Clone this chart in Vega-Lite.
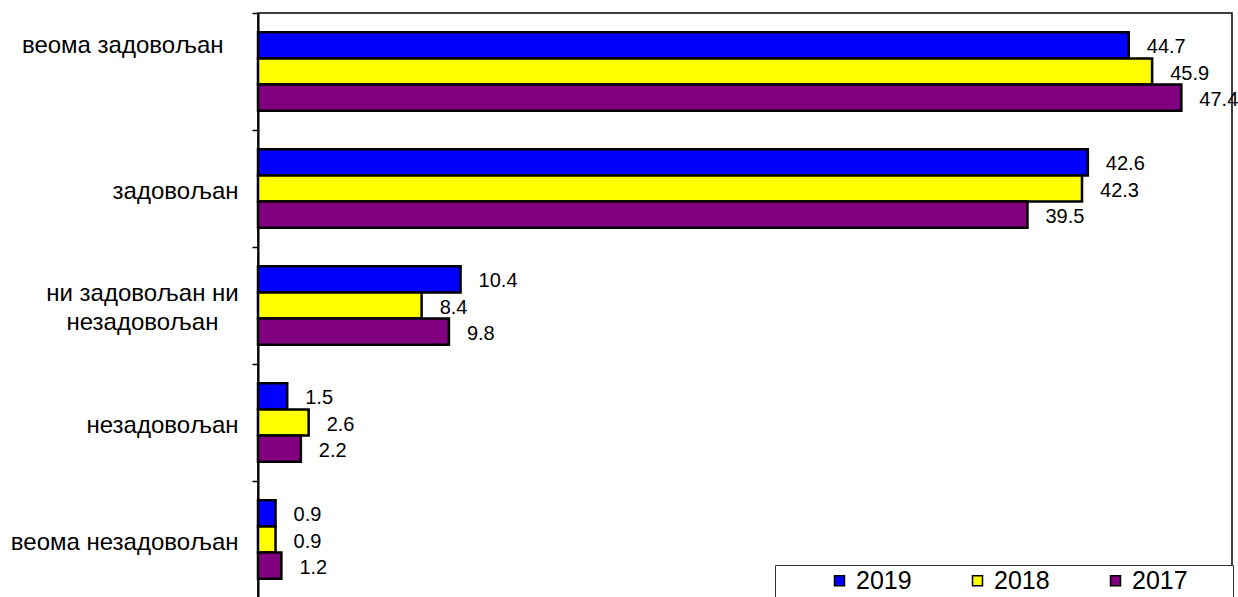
{
  "$schema": "https://vega.github.io/schema/vega-lite/v6.json",
  "width": 974,
  "height": 585,
  "autosize": {"type": "none"},
  "padding": {"left": 258, "top": 13, "right": 6, "bottom": 0},
  "background": "white",
  "config": {
    "font": "Liberation Sans",
    "view": {"stroke": "black", "strokeWidth": 1.5}
  },
  "data": {
    "values": [
      {"cat": "веома задовољан", "year": "2019", "value": 44.7},
      {"cat": "веома задовољан", "year": "2018", "value": 45.9},
      {"cat": "веома задовољан", "year": "2017", "value": 47.4},
      {"cat": "задовољан", "year": "2019", "value": 42.6},
      {"cat": "задовољан", "year": "2018", "value": 42.3},
      {"cat": "задовољан", "year": "2017", "value": 39.5},
      {"cat": "ни задовољан ни незадовољан", "year": "2019", "value": 10.4},
      {"cat": "ни задовољан ни незадовољан", "year": "2018", "value": 8.4},
      {"cat": "ни задовољан ни незадовољан", "year": "2017", "value": 9.8},
      {"cat": "незадовољан", "year": "2019", "value": 1.5},
      {"cat": "незадовољан", "year": "2018", "value": 2.6},
      {"cat": "незадовољан", "year": "2017", "value": 2.2},
      {"cat": "веома незадовољан", "year": "2019", "value": 0.9},
      {"cat": "веома незадовољан", "year": "2018", "value": 0.9},
      {"cat": "веома незадовољан", "year": "2017", "value": 1.2}
    ]
  },
  "encoding": {
    "y": {
      "field": "cat",
      "type": "nominal",
      "sort": null,
      "scale": {"paddingInner": 0.33, "paddingOuter": 0.165},
      "axis": {
        "title": null,
        "domainColor": "black",
        "domainWidth": 2,
        "tickColor": "black",
        "tickWidth": 1.5,
        "tickSize": 6,
        "tickOffset": -58.5,
        "labelFontSize": 24,
        "labelColor": "black",
        "labelLimit": 300,
        "labelLineHeight": 29,
        "labelExpr": "datum.value == 'ни задовољан ни незадовољан' ? ['ни задовољан ни', 'незадовољан'] : datum.label",
        "labelAlign": {"expr": "datum.value == 'ни задовољан ни незадовољан' ? 'center' : 'right'"},
        "labelPadding": {"expr": "datum.value == 'ни задовољан ни незадовољан' ? 110 : (datum.value == 'веома задовољан' ? 29 : 14)"},
        "labelOffset": {"expr": "datum.value == 'веома задовољан' ? 32 : (datum.value == 'ни задовољан ни незадовољан' ? 46 : 61.5)"}
      }
    },
    "yOffset": {
      "field": "year",
      "type": "nominal",
      "sort": ["2019", "2018", "2017"],
      "scale": {"paddingInner": 0, "paddingOuter": 0}
    },
    "x": {
      "field": "value",
      "type": "quantitative",
      "scale": {"domain": [0, 50], "nice": false},
      "axis": null
    }
  },
  "layer": [
    {
      "mark": {"type": "bar", "stroke": "black", "strokeWidth": 2.5},
      "encoding": {
        "color": {
          "field": "year",
          "type": "nominal",
          "sort": ["2019", "2018", "2017"],
          "scale": {"domain": ["2019", "2018", "2017"], "range": ["#0000FF", "#FFFF00", "#800080"]},
          "legend": {
            "title": null,
            "orient": "none",
            "legendX": 517,
            "legendY": 552,
            "direction": "horizontal",
            "strokeColor": "#333333",
            "fillColor": "white",
            "padding": 3,
            "symbolOffset": 49,
            "columnPadding": 4,
            "symbolType": "square",
            "symbolSize": 100,
            "symbolStrokeColor": "black",
            "symbolStrokeWidth": 1.5,
            "symbolOpacity": 1,
            "labelFontSize": 25,
            "labelColor": "black",
            "labelOffset": 4,
            "labelExpr": "datum.label == '2017' ? datum.label + '\u00a0\u00a0\u00a0\u00a0\u00a0\u00a0\u200b' : datum.label"
          }
        }
      }
    },
    {
      "mark": {"type": "text", "align": "left", "baseline": "middle", "dx": 18, "dy": 2, "fontSize": 20, "color": "black"},
      "encoding": {
        "text": {"field": "value", "type": "quantitative", "format": ".1f"}
      }
    }
  ]
}
